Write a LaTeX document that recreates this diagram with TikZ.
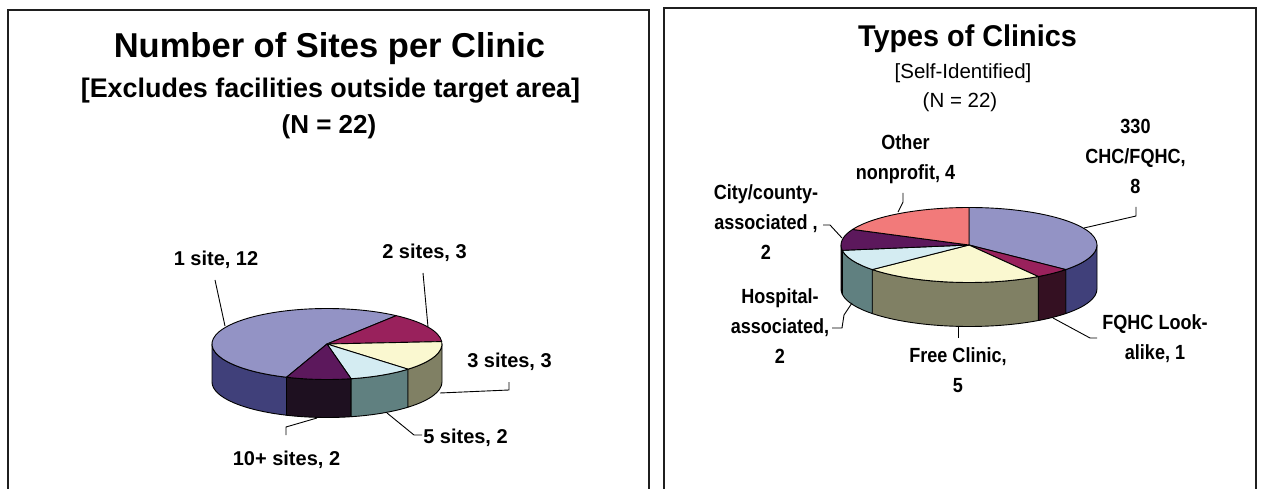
\documentclass[tikz,border=0pt]{standalone}
\usepackage{fontspec}
\setmainfont{Liberation Sans}
\newfontfamily\narrowsans{Liberation Sans}[FakeStretch=0.88]
\newfontfamily\titlesans{Liberation Sans}[FakeStretch=0.96]

% centred lines with a fixed line pitch; the box baseline is the first line
\newcommand\labelstack[1]{\vtop{\baselineskip=30pt\halign{\hfil##\hfil\cr#1\crcr}}}

% top face of one slice: centre, then elliptical arc from angle #2 to #3
\newcommand\pietop[5]{\filldraw[slice, fill=#1] (0,0) -- (#2:#4 and #5)
  arc[start angle=#2, end angle=#3, x radius=#4, y radius=#5] -- cycle;}
% visible rim of one slice, depth #6
\newcommand\pieside[6]{\filldraw[slice, fill=#1] (#2:#4 and #5)
  arc[start angle=#2, end angle=#3, x radius=#4, y radius=#5] -- ++(0,-#6)
  arc[start angle=#3, end angle=#2, x radius=#4, y radius=#5] -- cycle;}

\definecolor{lav}{RGB}{147,147,197}
\definecolor{lavside}{RGB}{64,64,122}
\definecolor{plum}{RGB}{153,33,92}
\definecolor{plumside}{RGB}{52,16,34}
\definecolor{cream}{RGB}{250,248,208}
\definecolor{creamside}{RGB}{128,128,100}
\definecolor{paleblue}{RGB}{212,236,242}
\definecolor{palebluside}{RGB}{96,128,128}
\definecolor{dpurp}{RGB}{92,24,92}
\definecolor{dpurpside}{RGB}{30,16,32}
\definecolor{salmon}{RGB}{242,122,122}

\tikzset{
  slice/.style={draw=black, line width=0.9pt, line join=round},
  panel/.style={draw=black!88, line width=2pt},
  leader/.style={draw=black, line width=0.9pt},
  ttl/.style={font=\bfseries\fontsize{34.5}{40}\selectfont, inner sep=0pt, anchor=base},
  sub/.style={font=\bfseries\fontsize{26.9}{30}\selectfont, inner sep=0pt, anchor=base},
  subn/.style={font=\bfseries\fontsize{26}{30}\selectfont, inner sep=0pt, anchor=base},
  rttl/.style={font=\titlesans\bfseries\fontsize{30}{34}\selectfont, inner sep=0pt, anchor=base},
  rsub/.style={font=\fontsize{20.5}{24}\selectfont, inner sep=0pt, anchor=base},
  lbl/.style={font=\bfseries\fontsize{20}{24}\selectfont, inner sep=0pt, anchor=base},
  rlbl/.style={font=\narrowsans\bfseries\fontsize{20.5}{24}\selectfont, inner sep=0pt, anchor=base},
}

\begin{document}
\begin{tikzpicture}[x=1pt, y=-1pt]
\useasboundingbox (0,0) rectangle (1262,489);
\fill[white] (0,0) rectangle (1262,489);

% chart frames
\draw[panel] (8,489) -- (8,10) -- (649,10) -- (649,489);
\draw[panel] (664,489) -- (664,8) -- (1256,8) -- (1256,489);

% ---------- left chart: number of sites ----------
\node[ttl] (t1) at (329.5,57.5) {Number of Sites per Clinic};
\node[sub] (t2) at (330.5,97.3) {[Excludes facilities outside target area]};
\node[subn] (t3) at (329,133.3) {(N = 22)};

\begin{scope}[shift={(327,344)}, x=1pt, y=1pt]
  \pieside{lavside}{-180}{-110.6}{115}{35.5}{38}
  \pieside{dpurpside}{-110.6}{-77.9}{115}{35.5}{38}
  \pieside{palebluside}{-77.9}{-45.2}{115}{35.5}{38}
  \pieside{creamside}{-45.2}{0}{115}{35.5}{38}
  \pietop{lav}{249.4}{53}{115}{35.5}
  \pietop{plum}{53}{3.9}{115}{35.5}
  \pietop{cream}{3.9}{-45.2}{115}{35.5}
  \pietop{paleblue}{-45.2}{-77.9}{115}{35.5}
  \pietop{dpurp}{-77.9}{-110.6}{115}{35.5}
\end{scope}

\node[lbl] (s1) at (216,266) {1 site, 12};
\node[lbl] (s2) at (424.5,259) {2 sites, 3};
\node[lbl] (s3) at (509.5,367) {3 sites, 3};
\node[lbl] (s5) at (465.5,443) {5 sites, 2};
\node[lbl] (s10) at (286.5,465) {10+ sites, 2};

\coordinate (s1a) at (215,280);  \coordinate (s1b) at (225,326);
\coordinate (s2a) at (423,273);  \coordinate (s2b) at (428,327);
\coordinate (s3a) at (509,382);  \coordinate (s3k) at (509,390); \coordinate (s3b) at (440,393);
\coordinate (s5a) at (422,435);  \coordinate (s5k) at (414,435); \coordinate (s5b) at (387,413);
\coordinate (s10a) at (286,435); \coordinate (s10k) at (286,427); \coordinate (s10b) at (317,418);
\draw[leader] (s1a) -- (s1b);
\draw[leader] (s2a) -- (s2b);
\draw[leader] (s3a) -- (s3k) -- (s3b);
\draw[leader] (s5a) -- (s5k) -- (s5b);
\draw[leader] (s10a) -- (s10k) -- (s10b);

% ---------- right chart: types of clinics ----------
\node[rttl] (r1) at (967.5,47) {Types of Clinics};
\node[rsub] (r2) at (963,79) {[Self-Identified]};
\node[rsub] (r3) at (960,108) {(N = 22)};

\begin{scope}[shift={(969,245)}, x=1pt, y=1pt]
  \pieside{lavside}{0}{-40.91}{128}{37.5}{44}
  \pieside{plumside}{-40.91}{-57.27}{128}{37.5}{44}
  \pieside{creamside}{-57.27}{-139.09}{128}{37.5}{44}
  \pieside{palebluside}{-139.09}{-171.82}{128}{37.5}{44}
  \pieside{dpurpside}{-171.82}{-180}{128}{37.5}{44}
  \pietop{lav}{90}{-40.91}{128}{37.5}
  \pietop{plum}{-40.91}{-57.27}{128}{37.5}
  \pietop{cream}{-57.27}{-139.09}{128}{37.5}
  \pietop{paleblue}{-139.09}{-171.82}{128}{37.5}
  \pietop{dpurp}{-171.82}{-204.55}{128}{37.5}
  \pietop{salmon}{155.45}{90}{128}{37.5}
\end{scope}

\node[rlbl] (chc) at (1135.5,133.5) {\labelstack{330\cr CHC/FQHC,\cr 8}};
\node[rlbl] (fla) at (1155,330) {\labelstack{FQHC Look-\cr alike, 1}};
\node[rlbl] (free) at (958,362.5) {\labelstack{Free Clinic,\cr 5}};
\node[rlbl] (hosp) at (780,304) {\labelstack{Hospital-\cr associated,\cr 2}};
\node[rlbl] (city) at (766,199.5) {\labelstack{City/county-\cr associated ,\cr 2}};
\node[rlbl] (oth) at (905.5,150) {\labelstack{Other\cr nonprofit, 4}};

\coordinate (chca) at (1136,207); \coordinate (chck) at (1136,216); \coordinate (chcb) at (1084,228);
\coordinate (flaa) at (1097,338); \coordinate (flak) at (1090,338); \coordinate (flab) at (1053,318);
\coordinate (freea) at (958,338); \coordinate (freeb) at (958,327);
\coordinate (hospa) at (832,328); \coordinate (hospk) at (842,328); \coordinate (hospm) at (844,315); \coordinate (hospb) at (852,303);
\coordinate (citya) at (823,225); \coordinate (cityk) at (830,225); \coordinate (cityb) at (842,238);
\coordinate (otha) at (903,193); \coordinate (othk) at (903,202); \coordinate (othb) at (898,212);
\draw[leader] (chca) -- (chck) -- (chcb);
\draw[leader] (flaa) -- (flak) -- (flab);
\draw[leader] (freea) -- (freeb);
\draw[leader] (hospa) -- (hospk) -- (hospm) -- (hospb);
\draw[leader] (citya) -- (cityk) -- (cityb);
\draw[leader] (otha) -- (othk) -- (othb);
\end{tikzpicture}
\end{document}
